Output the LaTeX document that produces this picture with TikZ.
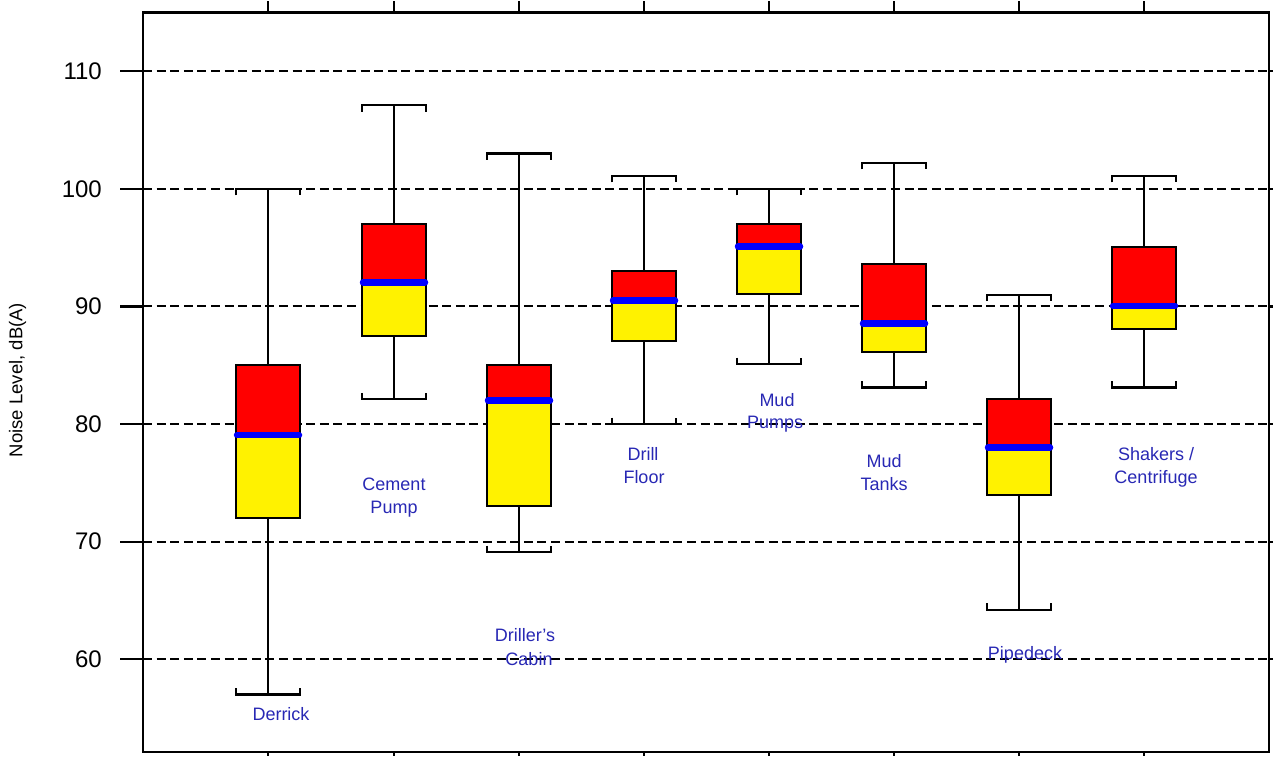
\documentclass[tikz,border=0pt]{standalone}
\usepackage{fontspec}
\setmainfont{Liberation Sans}
\definecolor{labelblue}{RGB}{40,40,180}

% whisker-and-box glyph: #1 x, #2 low whisker, #3 Q1, #4 median, #5 Q3, #6 high whisker
\newcommand{\drawbox}[6]{%
  \draw[whisk] (#1,#2) -- (#1,#3);
  \draw[whisk] (#1,#5) -- (#1,#6);
  \draw[whisk] (#1-32,#2+0.55) -- (#1-32,#2) -- (#1+32,#2) -- (#1+32,#2+0.55);
  \draw[whisk] (#1-32,#6-0.55) -- (#1-32,#6) -- (#1+32,#6) -- (#1+32,#6-0.55);
  \fill[yellow] (#1-32,#3) rectangle (#1+32,#4);
  \fill[red] (#1-32,#4) rectangle (#1+32,#5);
  \draw[boxline] (#1-32,#3) rectangle (#1+32,#5);
  \draw[medline] (#1-31,#4) -- (#1+31,#4);
}

\begin{document}
\begin{tikzpicture}[x=1pt,y=1pt,
  frameline/.style={line width=2.2pt, line cap=rect},
  gridline/.style={line width=2pt, dash pattern=on 9pt off 4.6pt},
  tickline/.style={line width=2.2pt},
  whisk/.style={line width=2.1pt},
  boxline/.style={line width=2.1pt, line cap=rect},
  medline/.style={line width=6.5pt, blue, line cap=round},
  catlabel/.style={anchor=base, inner sep=0pt, text=labelblue, font=\fontsize{18}{22}\selectfont},
  ticklabel/.style={anchor=east, inner sep=0pt, font=\fontsize{24}{28}\selectfont}]
\useasboundingbox (0,0) rectangle (1273,756);

% plot frame and category ticks
\draw[frameline] (143,4) rectangle (1269,743.5);
\foreach \cx in {268,394,519,644,769,894,1019,1144} {
  \draw[tickline] (\cx,743.5) -- (\cx,755);
  \draw[tickline] (\cx,4) -- (\cx,0);
}

% axis title
\node[rotate=90, inner sep=0pt, font=\fontsize{18.5}{22}\selectfont] (ylabel) at (17.5,376) {Noise Level, dB(A)};

% data in dB(A) units
\begin{scope}[y=11.76pt, yshift=-608.8pt]
  \foreach \v in {60,70,80,90,100,110} {
    \draw[gridline] (143,\v) -- (1269,\v);
    \draw[tickline] (120,\v) -- (143,\v);
    \draw[tickline] (1269,\v) -- (1273,\v);
    \node[ticklabel] (tick\v) at (102,\v) {\v};
  }
  \drawbox{268}{57}{72}{79.05}{85}{100}
  \drawbox{394}{82.1}{87.5}{92.05}{97}{107.1}
  \drawbox{519}{69.1}{73}{82}{85}{103}
  \drawbox{644}{80}{87.05}{90.5}{93}{101.1}
  \drawbox{769}{85.1}{91.05}{95.1}{97}{100}
  \drawbox{894}{83.1}{86.1}{88.55}{93.6}{102.2}
  \drawbox{1019}{64.2}{74}{78}{82.1}{91}
  \drawbox{1144}{83.1}{88.1}{90.05}{95.05}{101.1}
\end{scope}

% category names
\node[catlabel] (derrick) at (281,36) {Derrick};
\node[catlabel] (cementA) at (394,266) {Cement};
\node[catlabel] (cementB) at (394,243) {Pump};
\node[catlabel] (drillerA) at (525,115) {Driller’s};
\node[catlabel] (drillerB) at (529,91) {Cabin};
\node[catlabel] (floorA) at (643,296) {Drill};
\node[catlabel] (floorB) at (644,273) {Floor};
\node[catlabel] (pumpsA) at (777,350) {Mud};
\node[catlabel] (pumpsB) at (775,328) {Pumps};
\node[catlabel] (tanksA) at (884,289) {Mud};
\node[catlabel] (tanksB) at (884,266) {Tanks};
\node[catlabel] (pipedeck) at (1025,97) {Pipedeck};
\node[catlabel] (shakersA) at (1156,296) {Shakers /};
\node[catlabel] (shakersB) at (1156,273) {Centrifuge};
\end{tikzpicture}
\end{document}
